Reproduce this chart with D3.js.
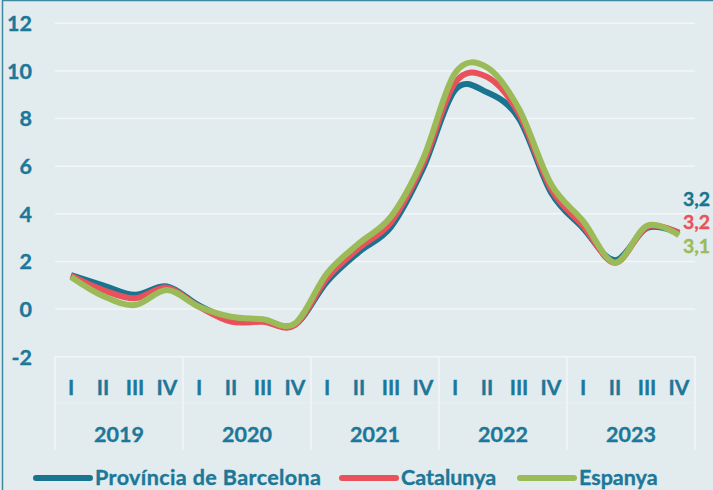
<!DOCTYPE html>
<html><head><meta charset="utf-8">
<script src="https://cdn.jsdelivr.net/npm/d3@7"></script>
<style>
html,body{margin:0;padding:0;background:#e2ebee;}
svg{display:block;font-family:Lato,"Open Sans",sans-serif;font-weight:bold;}
text{stroke-width:0.35px;}
</style></head>
<body><svg id="c" width="713" height="490"></svg>
<script>
const years = ["2019","2020","2021","2022","2023"];
const quarters = ["I","II","III","IV"];
const yTicks = [-2,0,2,4,6,8,10,12];
const barcelona = [1.43,1.0,0.6,0.95, 0.15,-0.42,-0.47,-0.65, 1.15,2.4,3.45,5.9, 9.2,9.1,8.0,4.9, 3.4,2.05,3.4,3.2];
const catalunya = [1.4,0.8,0.45,0.9, 0.1,-0.53,-0.53,-0.67, 1.3,2.57,3.65,6.1, 9.5,9.75,8.2,5.05, 3.5,1.95,3.45,3.2];
const espanya   = [1.35,0.55,0.17,0.8, 0.1,-0.32,-0.43,-0.6, 1.5,2.76,3.88,6.3, 9.9,10.15,8.4,5.25, 3.7,1.95,3.5,3.1];
const seriesNames = ["Província de Barcelona","Catalunya","Espanya"];
const endLabels = ["3,2","3,2","3,1"];

const colors = ["#18748f","#e9525b","#9bbb59"];
const textColor = "#1c7798";
const W = 713, H = 490;
const FS = 21.5;
const svg = d3.select("#c");
svg.append("rect").attr("x",2.5).attr("y",0.5).attr("width",W+10).attr("height",H+10)
  .attr("fill","#e2ebee").attr("stroke","#3f8aa3").attr("stroke-width",1.5);

const keys = [];
years.forEach(y=>quarters.forEach(q=>keys.push(y+"-"+q)));
const x = d3.scaleBand().domain(keys).range([55,695]);
const xYear = d3.scaleBand().domain(years).range([55,695]);
const y = d3.scaleLinear().domain([-2,12]).range([356.7,23.3]);

// gridlines
svg.append("g").selectAll("line").data(yTicks).join("line")
  .attr("x1",55).attr("x2",695).attr("y1",d=>y(d)).attr("y2",d=>y(d))
  .attr("stroke","#f3f6f7").attr("stroke-width",1.5);

// y tick labels
svg.append("g").selectAll("text").data(yTicks).join("text")
  .attr("x",32).attr("y",d=>y(d)+7.8).attr("text-anchor","end")
  .attr("fill",textColor).attr("stroke",textColor).attr("font-size",FS).text(d=>d);

// category axis box separators
const bounds = years.map(yy=>xYear(yy)).concat([695]);
svg.append("g").selectAll("line").data(bounds).join("line")
  .attr("x1",d=>d).attr("x2",d=>d).attr("y1",y(-2)).attr("y2",450)
  .attr("stroke","#f3f6f7").attr("stroke-width",1.5);
svg.append("line").attr("x1",55).attr("x2",695).attr("y1",403).attr("y2",403)
  .attr("stroke","#eaf0f2").attr("stroke-width",1);

// quarter labels
svg.append("g").selectAll("text").data(keys).join("text")
  .attr("x",d=>x(d)+x.bandwidth()/2).attr("y",394.5).attr("text-anchor","middle")
  .attr("fill",textColor).attr("stroke",textColor).attr("font-size",FS-0.5).text(d=>d.split("-")[1]);
// year labels
svg.append("g").selectAll("text").data(years).join("text")
  .attr("x",d=>xYear(d)+xYear.bandwidth()/2).attr("y",441.8).attr("text-anchor","middle")
  .attr("fill",textColor).attr("stroke",textColor).attr("font-size",FS).text(d=>d);

// lines
const line = d3.line().x((d,i)=>x(keys[i])+x.bandwidth()/2).y(d=>y(d)).curve(d3.curveCatmullRom.alpha(0));
const all = [barcelona,catalunya,espanya];
svg.append("g").selectAll("path").data(all).join("path")
  .attr("d",d=>line(d)).attr("fill","none").attr("stroke",(d,i)=>colors[i])
  .attr("stroke-width",6).attr("stroke-linejoin","round").attr("stroke-linecap","butt");

// end labels
const endY = [205.5,229,252.5];
svg.append("g").selectAll("text").data(endLabels).join("text")
  .attr("x",683).attr("y",(d,i)=>endY[i]).attr("fill",(d,i)=>colors[i]).attr("stroke",(d,i)=>colors[i])
  .attr("font-size",19.5).text(d=>d);

// legend
const legX = [36,342,520];
const leg = svg.append("g").selectAll("g").data(seriesNames).join("g");
leg.append("line").attr("x1",(d,i)=>legX[i]).attr("x2",(d,i)=>legX[i]+54)
  .attr("y1",478).attr("y2",478).attr("stroke",(d,i)=>colors[i]).attr("stroke-width",6).attr("stroke-linecap","round");
leg.append("text").attr("x",(d,i)=>legX[i]+59).attr("y",485).attr("fill",textColor).attr("stroke",textColor)
  .attr("font-size",FS).text(d=>d)
  .each(function(d,i){ if(i===0) d3.select(this).attr("textLength",226).attr("lengthAdjust","spacing"); });
</script></body></html>
